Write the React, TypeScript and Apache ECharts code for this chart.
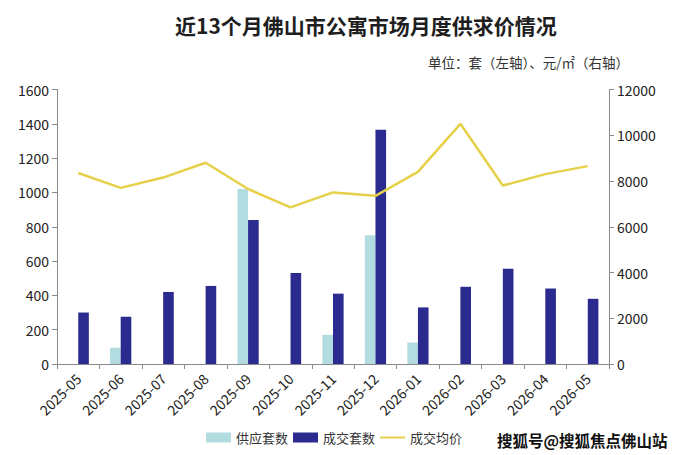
import React, { useEffect, useRef } from "react";
import * as echarts from "echarts";

const months = [
  "2025-05", "2025-06", "2025-07", "2025-08", "2025-09", "2025-10", "2025-11",
  "2025-12", "2026-01", "2026-02", "2026-03", "2026-04", "2026-05",
];
const supplyUnits = [0, 95, 0, 0, 1020, 0, 170, 750, 125, 0, 0, 0, 0];
const dealUnits = [300, 275, 420, 455, 840, 530, 410, 1365, 330, 450, 555, 440, 380];
const avgPrice = [8350, 7700, 8150, 8800, 7650, 6850, 7500, 7350, 8400, 10500, 7800, 8300, 8650];

const titleText = "近13个月佛山市公寓市场月度供求价情况";
const unitText = "单位：套（左轴）、元/㎡（右轴）";
const sourceText = "搜狐号@搜狐焦点佛山站";
const seriesNames = ["供应套数", "成交套数", "成交均价"];

const FONT = "'Noto Sans CJK SC', 'Noto Sans', sans-serif";

export default function App() {
  const ref = useRef<HTMLDivElement>(null);
  useEffect(() => {
    if (!ref.current) return;
    const chart = echarts.init(ref.current, null, { renderer: "svg" });
    const axisLine = { show: true, lineStyle: { color: "#8a8a8a", width: 1 } };
    const tick = { show: true, length: 5, lineStyle: { color: "#8a8a8a" } };
    chart.setOption({
      animation: false,
      backgroundColor: "#ffffff",
      textStyle: { fontFamily: FONT },
      title: {
        text: titleText,
        left: 170,
        top: 9,
        textStyle: { fontSize: 21, fontWeight: "bold", color: "#1e1e1e", fontFamily: FONT },
      },
      graphic: [
        {
          type: "text",
          x: 629,
          y: 62,
          style: {
            text: unitText,
            align: "right",
            verticalAlign: "middle",
            fontSize: 13.5,
            fill: "#333",
            fontFamily: FONT,
          },
        },
        {
          type: "text",
          x: 497,
          y: 440,
          style: {
            text: sourceText,
            align: "left",
            verticalAlign: "middle",
            fontSize: 15.5,
            fontWeight: "bold",
            fill: "#111",
            fontFamily: FONT,
          },
        },
      ],
      legend: {
        left: 206,
        top: 431,
        padding: 0,
        itemWidth: 25,
        itemHeight: 10,
        itemGap: 5,
        textStyle: { fontSize: 13, color: "#333", fontFamily: FONT },
        data: [
          { name: seriesNames[0], icon: "rect" },
          { name: seriesNames[1], icon: "rect" },
          { name: seriesNames[2], icon: "path://M0,0 L25,0 L25,2 L0,2 Z" },
        ],
      },
      grid: { left: 57, right: 72, top: 89.5, bottom: 91, containLabel: false },
      xAxis: {
        type: "category",
        data: months,
        boundaryGap: true,
        axisLine,
        axisTick: tick,
        axisLabel: { rotate: 45, fontSize: 14, color: "#222", margin: 12, interval: 0, fontFamily: FONT },
      },
      yAxis: [
        {
          type: "value",
          min: 0,
          max: 1600,
          interval: 200,
          axisLine,
          axisTick: tick,
          splitLine: { show: false },
          axisLabel: { fontSize: 14, color: "#222", margin: 8, fontFamily: FONT, formatter: (v: number) => String(v) },
        },
        {
          type: "value",
          min: 0,
          max: 12000,
          interval: 2000,
          position: "right",
          axisLine,
          axisTick: tick,
          splitLine: { show: false },
          axisLabel: { fontSize: 14, color: "#222", margin: 8, fontFamily: FONT, formatter: (v: number) => String(v) },
        },
      ],
      series: [
        {
          name: seriesNames[0],
          type: "bar",
          data: supplyUnits,
          barGap: "0%",
          barCategoryGap: "50%",
          itemStyle: { color: "#b3dce0" },
        },
        {
          name: seriesNames[1],
          type: "bar",
          data: dealUnits,
          barGap: "0%",
          barCategoryGap: "50%",
          itemStyle: { color: "#2b2b8f" },
        },
        {
          name: seriesNames[2],
          type: "line",
          yAxisIndex: 1,
          data: avgPrice,
          showSymbol: false,
          symbol: "none",
          lineStyle: { color: "#e6d04a", width: 2.5 },
          itemStyle: { color: "#e6d04a" },
          z: 5,
        },
      ],
    });
    return () => chart.dispose();
  }, []);
  return (
    <div
      ref={ref}
      style={{ position: "fixed", left: 0, top: 0, width: 681, height: 455 }}
    />
  );
}
